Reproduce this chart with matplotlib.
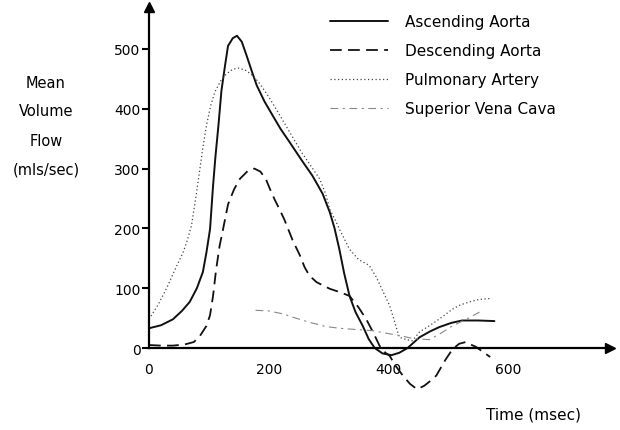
import matplotlib
matplotlib.use("Agg")
import matplotlib.pyplot as plt

plt.rcParams['font.family'] = ['DejaVu Sans']

# Ascending Aorta (time msec, flow mls/sec)
asc_t = [0, 20, 40, 55, 68, 80, 90, 96, 102, 107, 111, 116, 121, 127, 132, 140, 147, 155, 163, 172,
         180, 193, 207, 220, 235, 255, 273, 290, 302, 310, 318, 326, 335, 345, 357, 367, 377, 390,
         405, 418, 432, 452, 470, 485, 505, 523, 550, 577]
asc_v = [33, 38, 48, 62, 77, 100, 127, 160, 199, 271, 320, 372, 430, 472, 505, 518, 522, 512, 489, 462,
         439, 412, 388, 366, 344, 314, 288, 258, 227, 200, 165, 125, 87, 60, 37, 15, 0, -9,
         -12, -8, 0, 18, 28, 35, 42, 46, 46, 45]

# Descending Aorta
desc_t = [0, 20, 40, 60, 75, 85, 96, 102, 107, 112, 118, 124, 132, 142, 152, 165, 176, 186, 195, 202,
          210, 218, 226, 232, 240, 252, 260, 268, 280, 302, 320, 335, 350, 363, 375, 385, 395, 402,
          412, 424, 436, 448, 460, 470, 480, 495, 507, 518, 529, 537, 546, 560, 570]
desc_v = [5, 4, 4, 6, 10, 20, 37, 55, 87, 130, 171, 200, 240, 265, 283, 296, 300, 295, 283, 266,
          248, 232, 215, 200, 180, 155, 135, 121, 110, 99, 93, 87, 68, 48, 25, 4, -8, -13,
          -30, -46, -60, -69, -63, -55, -46, -20, -2, 7, 10, 6, 2, -8, -15]

# Pulmonary Artery
pa_t = [0, 15, 29, 43, 57, 64, 71, 78, 85, 90, 96, 103, 110, 120, 129, 140, 150, 162, 174, 185,
        200, 215, 235, 255, 270, 285, 295, 302, 312, 320, 335, 350, 368, 380, 392, 402, 410, 418,
        430, 440, 452, 465, 480, 495, 507, 520, 535, 550, 573]
pa_v = [48, 72, 99, 130, 160, 180, 205, 250, 299, 335, 372, 405, 428, 447, 458, 466, 468, 464, 455, 442,
        420, 395, 361, 327, 305, 283, 258, 232, 212, 195, 165, 148, 138, 118, 92, 71, 45, 18,
        14, 12, 27, 35, 45, 56, 65, 72, 77, 81, 83]

# Superior Vena Cava
svc_t = [178, 200, 224, 245, 268, 295, 318, 345, 373, 395, 418, 440, 468, 485, 507, 530, 552]
svc_v = [63, 62, 57, 50, 43, 36, 33, 31, 29, 25, 21, 16, 14, 23, 37, 48, 60]

labels = ['Ascending Aorta', 'Descending Aorta', 'Pulmonary Artery', 'Superior Vena Cava']
x_ticks = [0, 200, 400, 600]
y_ticks = [0, 100, 200, 300, 400, 500]

fig = plt.figure(figsize=(6.2, 4.31), dpi=100)
ax = fig.add_axes([0.2403, 0.0237, 0.7435, 0.9576])
ax.set_xlim(0, 770)
ax.set_ylim(-120, 570)

l1, = ax.plot(asc_t, asc_v, color='#111111', lw=1.4, solid_capstyle='round', clip_on=False)
l2, = ax.plot(desc_t, desc_v, color='#111111', lw=1.3, linestyle=(0, (6.5, 3.5)), clip_on=False)
l3, = ax.plot(pa_t, pa_v, color='#444444', lw=0.9, linestyle=(0, (1, 2)), clip_on=False)
l4, = ax.plot(svc_t, svc_v, color='#888888', lw=0.8, linestyle=(0, (7, 4, 2, 4)), clip_on=False)

for s in ['top', 'right']:
    ax.spines[s].set_visible(False)
ax.spines['bottom'].set_position(('data', 0))
ax.spines['left'].set_position(('data', 0))
ax.spines['bottom'].set_linewidth(1.6)
ax.spines['left'].set_linewidth(1.6)
ax.spines['left'].set_bounds(0, 570)

ax.plot([1], [0], marker='>', color='black', markersize=7, transform=ax.get_yaxis_transform(), clip_on=False)
ax.plot([0], [1], marker='^', color='black', markersize=7, transform=ax.get_xaxis_transform(), clip_on=False)

ax.set_xticks(x_ticks)
ax.set_xticklabels([str(v) for v in x_ticks])
ax.set_yticks(y_ticks)
ax.set_yticklabels([str(v) for v in y_ticks])
ax.tick_params(axis='x', length=0, pad=10, labelsize=10)
ax.tick_params(axis='y', length=5, width=1.5, pad=1, labelsize=10)

leg = ax.legend([l1, l2, l3, l4], labels, loc='upper left', bbox_to_anchor=(330 / 620, 1 - 15 / 431),
                bbox_transform=fig.transFigure, frameon=False, fontsize=11, handlelength=3.8,
                handletextpad=1.1, labelspacing=0.92, borderpad=0, borderaxespad=0)

for i, t in enumerate(['Mean', 'Volume', 'Flow', '(mls/sec)']):
    fig.text(46 / 620, 1 - (83 + 29 * i) / 431, t, ha='center', va='center', fontsize=10.5)

fig.text(533 / 620, 1 - 415 / 431, 'Time (msec)', ha='center', va='center', fontsize=11)

fig.savefig('out.png', dpi=100)
